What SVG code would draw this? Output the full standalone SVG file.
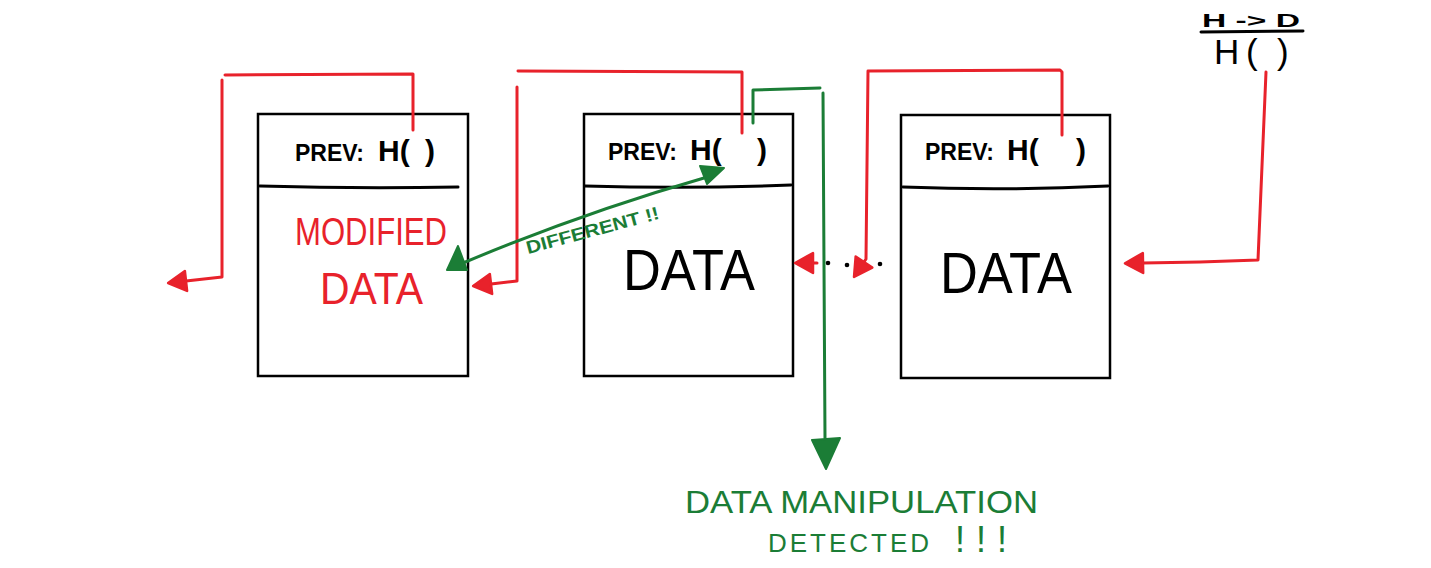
<svg xmlns="http://www.w3.org/2000/svg" width="1431" height="568" viewBox="0 0 1431 568">
<style>
.box{fill:#fff;stroke:#000;stroke-width:2.5}
.div{fill:none;stroke:#000;stroke-width:3;stroke-linecap:round}
.hdr{font-family:"Liberation Sans",Arial,sans-serif;font-weight:bold;fill:#000}
.big{font-family:"Liberation Sans",Arial,sans-serif;fill:#000}
.red{stroke:#e8222b;fill:none;stroke-width:3;stroke-linejoin:round;stroke-linecap:round}
.grn{stroke:#1b7d36;fill:none;stroke-width:3;stroke-linejoin:round;stroke-linecap:round}
.rtx{fill:#e8222b}
.gtx{fill:#1b7d36}
.lbl{font-family:"Liberation Sans",Arial,sans-serif;font-weight:bold}
</style>
<defs>
<marker id="ra" markerUnits="userSpaceOnUse" markerWidth="24" markerHeight="26" viewBox="-2 -2 24 26" refX="0" refY="11" orient="auto">
<path d="M0,1 L18,11 L0,21 z" fill="#e8222b" stroke="#e8222b" stroke-width="2.5" stroke-linejoin="round"/>
</marker>
</defs>
<rect width="1431" height="568" fill="#fff"/>

<g id="block1">
<rect class="box" x="258" y="114" width="210" height="262"/>
<path class="div" d="M260,186 Q360,189 458,187"/>
<text class="hdr" y="161"><tspan x="295" font-size="23">PREV:</tspan><tspan x="378" font-size="30">H( </tspan><tspan x="425" font-size="30">)</tspan></text>
<text class="big rtx" x="295" y="245" font-size="38" textLength="152" lengthAdjust="spacingAndGlyphs">MODIFIED</text>
<text class="big rtx" x="320" y="304" font-size="44" textLength="103" lengthAdjust="spacingAndGlyphs">DATA</text>
</g>

<g id="block2">
<rect class="box" x="584" y="114" width="209" height="262"/>
<path class="div" d="M585,186 Q690,189 791,185"/>
<text class="hdr" y="160"><tspan x="608" font-size="23">PREV: </tspan><tspan x="690" font-size="30">H( </tspan><tspan x="757" font-size="30">)</tspan></text>
<text class="big" x="623" y="290" font-size="58" textLength="132" lengthAdjust="spacingAndGlyphs">DATA</text>
</g>

<g id="block3">
<rect class="box" x="901" y="115" width="209" height="263"/>
<path class="div" d="M903,187 Q1005,191 1108,186"/>
<text class="hdr" y="160"><tspan x="925" font-size="23">PREV: </tspan><tspan x="1007" font-size="30">H( </tspan><tspan x="1076" font-size="30">)</tspan></text>
<text class="big" x="940" y="293" font-size="58" textLength="132" lengthAdjust="spacingAndGlyphs">DATA</text>
</g>

<g id="hash">
<text class="hdr" x="1202" y="27" font-size="19" textLength="98" lengthAdjust="spacingAndGlyphs">H -&gt; D</text>
<path class="div" d="M1201,32 L1303,31" stroke-width="3.5"/>
<text class="big" y="64" font-size="35"><tspan x="1214">H</tspan><tspan x="1246">( </tspan><tspan x="1277">)</tspan></text>
</g>

<g id="connectors">
<path class="red" d="M413,130 L413,74 L225,75 M222,80 L222,277 L186,281" marker-end="url(#ra)"/>
<path class="red" d="M742,133 L742,72 L518,71 M517,87 L517,281 L491,284" marker-end="url(#ra)"/>
<path class="red" d="M1062,135 L1062,72 L1060,70 L868,71 L866,259 L864,262" marker-end="url(#ra)"/>
<path class="red" d="M817,263 L813,263" marker-end="url(#ra)"/>
<path class="red" d="M1266,72 L1258,260 L1200,262 L1143,263" marker-end="url(#ra)"/>
<circle cx="828" cy="263" r="2.3" fill="#000"/>
<circle cx="847" cy="265" r="2.3" fill="#000"/>
<circle cx="880" cy="264" r="2.3" fill="#000"/>
<path class="grn" d="M753,123 L753,90 L820,88 M823,93 L825,438"/>
<path d="M812,440 L840,438 L826,469 z" fill="#1b7d36" stroke="#1b7d36" stroke-width="2" stroke-linejoin="round"/>
<path class="grn" d="M463,263 Q585,212 704,178"/>
<path d="M458,246 L447,270 L467,270 z" fill="#1b7d36" stroke="#1b7d36" stroke-width="2" stroke-linejoin="round"/>
<path d="M700,166 L724,168 L707,184 z" fill="#1b7d36" stroke="#1b7d36" stroke-width="2" stroke-linejoin="round"/>
</g>

<g id="labels">
<text class="lbl gtx" x="0" y="0" font-size="18" textLength="137" lengthAdjust="spacingAndGlyphs" transform="translate(528,254) rotate(-15)">DIFFERENT !!</text>
<text class="big gtx" x="685" y="513" font-size="32" textLength="353" lengthAdjust="spacingAndGlyphs">DATA MANIPULATION</text>
<text class="big gtx" y="552"><tspan x="768" font-size="26" letter-spacing="3">DETECTED </tspan><tspan x="955" font-size="36" letter-spacing="11">!!!</tspan></text>
</g>
</svg>
